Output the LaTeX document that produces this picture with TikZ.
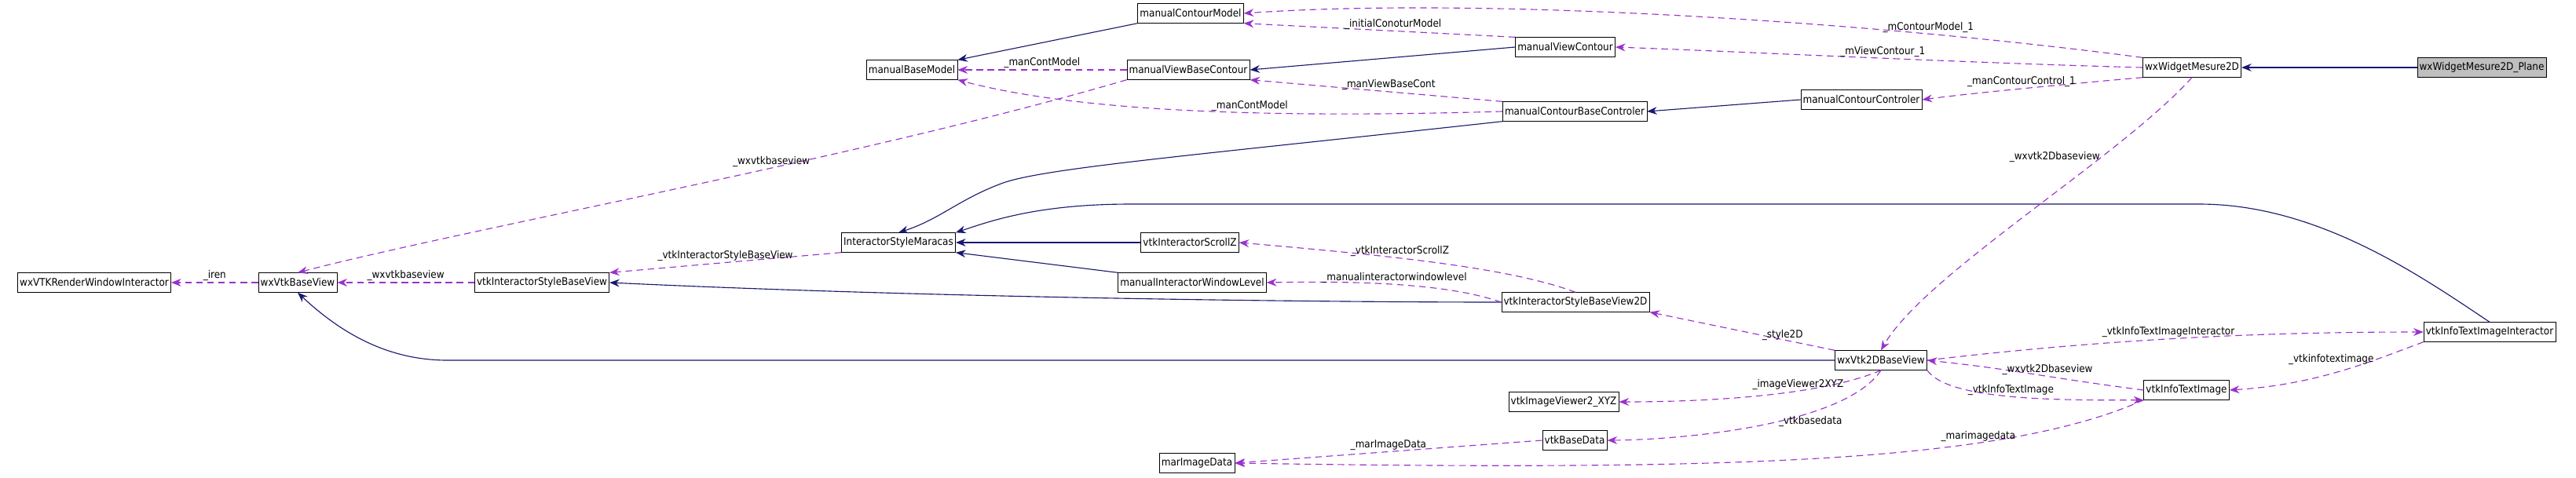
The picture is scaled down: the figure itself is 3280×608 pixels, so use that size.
\documentclass[tikz,border=0pt]{standalone}
\usepackage{fontspec}
\setmainfont{DejaVu Sans Condensed}
\usetikzlibrary{arrows.meta}
\definecolor{inhcol}{RGB}{25,25,112}
\definecolor{usecol}{RGB}{153,50,204}
\begin{document}
\begin{tikzpicture}[x=0.025cm,y=-0.025cm,
  cls/.style={draw=black,fill=white,inner sep=2pt,minimum height=0.62cm,font=\fontsize{9.5}{10}\selectfont},
  inh/.style={draw=inhcol,thick,-{Stealth[length=9pt,width=7pt]}},
  use/.style={draw=usecol,thick,dashed,dash pattern=on 6pt off 4pt,-{Stealth[length=9pt,width=7pt]}},
  lbl/.style={font=\fontsize{9.5}{10}\selectfont,fill=none,inner sep=1pt}]

    \useasboundingbox (0,0) rectangle (3280,608);

    % classes
    \node[cls,fill=black!25] (plane) at (3160,86) {wxWidgetMesure2D\_Plane};
    \node[cls] (mes) at (2791,86) {wxWidgetMesure2D};
    \node[cls] (cmodel) at (1516,17) {manualContourModel};
    \node[cls] (vcont) at (1993,60) {manualViewContour};
    \node[cls] (bmodel) at (1161,89) {manualBaseModel};
    \node[cls] (vbcont) at (1513,89) {manualViewBaseContour};
    \node[cls] (cbctrl) at (2005,142) {manualContourBaseControler};
    \node[cls] (cctrl) at (2370,127) {manualContourControler};
    \node[cls] (maracas) at (1144,309) {InteractorStyleMaracas};
    \node[cls] (scrollz) at (1515,309) {vtkInteractorScrollZ};
    \node[cls] (winlev) at (1518,360) {manualInteractorWindowLevel};
    \node[cls] (isb2d) at (2006,385) {vtkInteractorStyleBaseView2D};
    \node[cls] (isb) at (690,360) {vtkInteractorStyleBaseView};
    \node[cls] (basev) at (379,360) {wxVtkBaseView};
    \node[cls] (rwi) at (120,360) {wxVTKRenderWindowInteractor};
    \node[cls] (v2d) at (2395,459) {wxVtk2DBaseView};
    \node[cls] (tii) at (3170,423) {vtkInfoTextImageInteractor};
    \node[cls] (ti) at (2784,497) {vtkInfoTextImage};
    \node[cls] (iv) at (1991,512) {vtkImageViewer2\_XYZ};
    \node[cls] (bdata) at (2005,561) {vtkBaseData};
    \node[cls] (mdata) at (1524,590) {marImageData};

    % inheritance
    \draw[inh] (plane) -- (mes);
    \draw[inh] (vcont.west) -- (vbcont.east);
    \draw[inh] (cmodel.south west) -- (bmodel.north east);
    \draw[inh] (cctrl.west) -- (cbctrl.east);
    \draw[inh] (cbctrl.south west) .. controls (1500,200) and (1320,215) .. (1272,235) .. controls (1220,255) and (1195,280) .. (maracas.north);
    \draw[inh] (tii.north) .. controls (3080,350) and (2950,260) .. (2800,260) -- (1440,260) .. controls (1320,260) and (1260,282) .. (maracas.north east);
    \draw[inh] (scrollz) -- (maracas);
    \draw[inh] (winlev.north west) -- (maracas.south east);
    \draw[inh] (isb2d.west) .. controls (1700,385) and (1200,380) .. (isb.east);
    \draw[inh] (v2d.west) -- (570,459) .. controls (500,459) and (440,430) .. (basev.south);

    % usage
    \draw[use] (mes.north west) .. controls (2400,30) and (1900,-5) .. (cmodel.east) node[lbl,pos=0.25,above] {\_mContourModel\_1};
    \draw[use] (mes.west) .. controls (2500,80) and (2200,65) .. (vcont.east) node[lbl,pos=0.45,above] {\_mViewContour\_1};
    \draw[use] (mes.south west) .. controls (2600,110) and (2500,120) .. (cctrl.east) node[lbl,pos=0.45,above] {\_manContourControl\_1};
    \draw[use] (mes.south) .. controls (2700,200) and (2450,350) .. (v2d.north) node[lbl,pos=0.3,left] {\_wxvtk2Dbaseview};
    \draw[use] (vcont.north west) -- (cmodel.south east) node[lbl,pos=0.45,above] {\_initialConoturModel};
    \draw[use] (vbcont.west) -- (bmodel.east) node[lbl,midway,above] {\_manContModel};
    \draw[use] (cbctrl.west) .. controls (1700,148) and (1400,150) .. (bmodel.south east) node[lbl,pos=0.45,above] {\_manContModel};
    \draw[use] (cbctrl.north west) -- (vbcont.south east) node[lbl,pos=0.45,above] {\_manViewBaseCont};
    \draw[use] (vbcont.south west) .. controls (1100,200) and (600,290) .. (basev.north) node[lbl,pos=0.4,above] {\_wxvtkbaseview};
    \draw[use] (isb) -- (basev) node[lbl,midway,above] {\_wxvtkbaseview};
    \draw[use] (maracas.south west) -- (isb.north east) node[lbl,midway,above] {\_vtkInteractorStyleBaseView};
    \draw[use] (basev) -- (rwi) node[lbl,midway,above] {\_iren};
    \draw[use] (isb2d.north) .. controls (1920,340) and (1760,325) .. (scrollz.east) node[lbl,pos=0.6,above] {\_vtkInteractorScrollZ};
    \draw[use] (isb2d.west) .. controls (1840,360) and (1720,358) .. (winlev.east) node[lbl,pos=0.5,above] {\_manualinteractorwindowlevel};
    \draw[use] (v2d.north west) -- (isb2d.south east) node[lbl,pos=0.4,right] {\_style2D};
    \draw[use] (v2d.east) .. controls (2700,430) and (2900,423) .. (tii.west) node[lbl,pos=0.45,above] {\_vtkInfoTextImageInteractor};
    \draw[use] (tii.south west) .. controls (3020,460) and (2950,490) .. (ti.east) node[lbl,pos=0.3,left] {\_vtkinfotextimage};
    \draw[use] (ti.west) .. controls (2600,480) and (2560,470) .. (v2d.east) node[lbl,pos=0.4,above] {\_wxvtk2Dbaseview};
    \draw[use] (v2d.south east) .. controls (2480,510) and (2620,510) .. (ti.south west) node[lbl,pos=0.5,above] {\_vtkInfoTextImage};
    \draw[use] (v2d.south) .. controls (2330,500) and (2200,512) .. (iv.east) node[lbl,pos=0.4,above] {\_imageViewer2XYZ};
    \draw[use] (v2d.south) .. controls (2350,540) and (2150,560) .. (bdata.east) node[lbl,pos=0.45,right] {\_vtkbasedata};
    \draw[use] (bdata.west) -- (mdata.east) node[lbl,midway,above] {\_marImageData};
    \draw[use] (ti.south west) .. controls (2550,590) and (2200,600) .. (mdata.east) node[lbl,pos=0.3,above] {\_marimagedata};

\end{tikzpicture}
\end{document}
